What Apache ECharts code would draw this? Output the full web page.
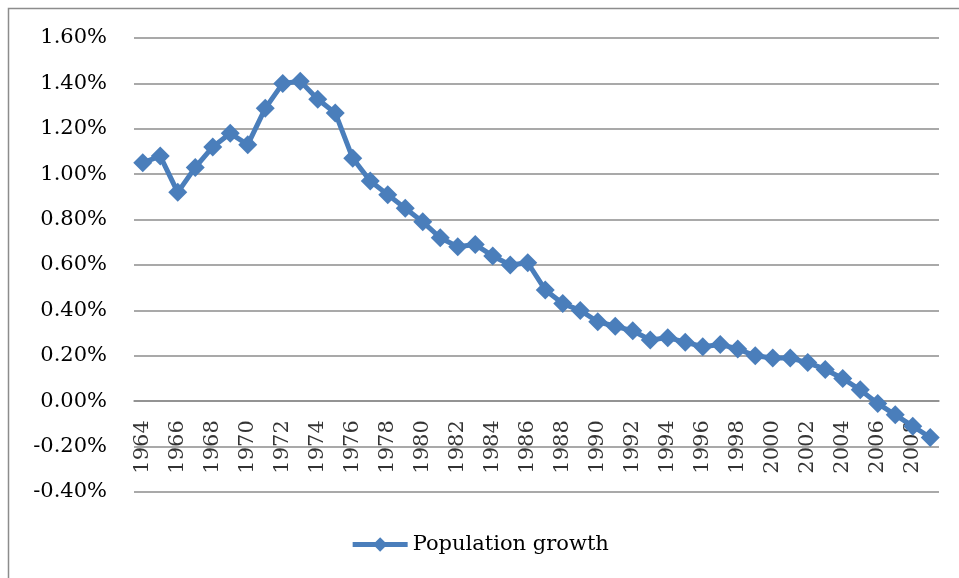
<!DOCTYPE html>
<html>
<head>
<meta charset="utf-8">
<script src="https://cdn.jsdelivr.net/npm/echarts@6/dist/echarts.min.js"></script>
<style>
  html, body { margin: 0; padding: 0; background: #fff; }
  #chart { width: 959px; height: 578px; }
</style>
</head>
<body>
<div id="chart"></div>
<script>
// years on the category axis
const years = []
for (let y = 1964; y <= 2009; y++) years.push(String(y))

// population growth, in percent
const growth = [
  1.05, 1.08, 0.92, 1.03, 1.12, 1.18, 1.13, 1.29, 1.40, 1.41,
  1.33, 1.27, 1.07, 0.97, 0.91, 0.85, 0.79, 0.72, 0.68, 0.69,
  0.64, 0.60, 0.61, 0.49, 0.43, 0.40, 0.35, 0.33, 0.31, 0.27,
  0.28, 0.26, 0.24, 0.25, 0.23, 0.20, 0.19, 0.19, 0.17, 0.14,
  0.10, 0.05, -0.01, -0.06, -0.11, -0.16,
]

const font = 'DejaVu Serif'
const blue = '#4a7ebb'
const grey = '#8c8c8c'

// year labels sit under the 0% line, every other year
const yearMarks = years.map((y, i) => (i % 2 === 0 ? 0 : '-'))

const chart = echarts.init(document.getElementById('chart'))
chart.setOption({
  animation: false,
  textStyle: { fontFamily: font, color: '#000' },
  graphic: [
    {
      // chart frame, only top and left edges are visible
      type: 'rect',
      shape: { x: 8.5, y: 8.5, width: 1200, height: 1200 },
      style: { fill: 'none', stroke: grey, lineWidth: 1.5 },
      silent: true,
    },
  ],
  grid: { left: 134, right: 20, top: 38, bottom: 86 },
  legend: {
    bottom: 18,
    left: 'center',
    itemWidth: 55,
    itemHeight: 18,
    lineStyle: { color: blue, width: 5 },
    itemStyle: { color: blue },
    textStyle: { fontFamily: font, fontSize: 21, color: '#000' },
    data: ['Population growth'],
  },
  xAxis: {
    type: 'category',
    data: years,
    axisLine: { onZero: true, lineStyle: { color: grey, width: 1.5 } },
    axisTick: { show: false },
    axisLabel: { show: false },
  },
  yAxis: {
    type: 'value',
    min: -0.4,
    max: 1.6,
    interval: 0.2,
    axisLine: { show: false },
    axisTick: { show: false },
    splitLine: { lineStyle: { color: grey, width: 1.5 } },
    axisLabel: {
      margin: 27,
      fontFamily: font,
      fontSize: 21,
      color: '#000',
      formatter: (v) => v.toFixed(2) + '%',
    },
  },
  series: [
    {
      name: 'Population growth',
      type: 'line',
      data: growth,
      symbol: 'diamond',
      symbolSize: 19,
      showAllSymbol: true,
      lineStyle: { color: blue, width: 5 },
      itemStyle: { color: blue },
      z: 3,
    },
    {
      // rotated year labels hung on the 0% line
      name: 'years',
      type: 'scatter',
      data: yearMarks,
      symbolSize: 0,
      silent: true,
      z: 1,
      label: {
        show: true,
        position: 'bottom',
        distance: 19,
        rotate: 90,
        align: 'right',
        verticalAlign: 'middle',
        fontFamily: font,
        fontSize: 21,
        color: '#000',
        formatter: (p) => p.name,
      },
    },
  ],
})
</script>
</body>
</html>
